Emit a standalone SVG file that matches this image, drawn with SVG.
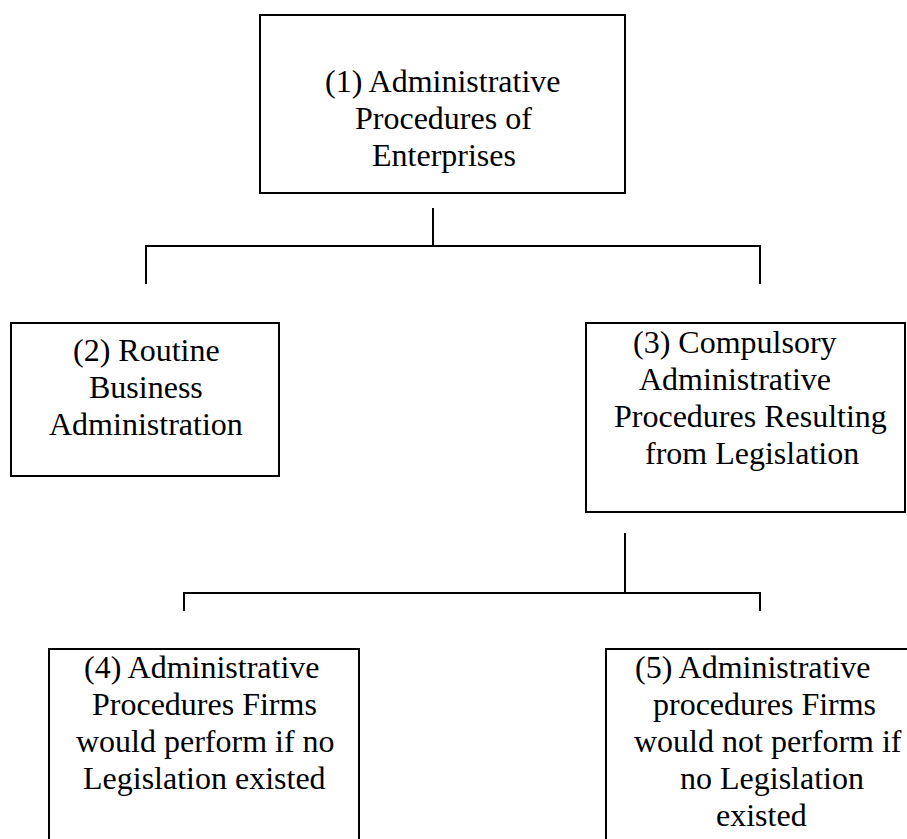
<svg xmlns="http://www.w3.org/2000/svg" width="907" height="839" viewBox="0 0 907 839">
<style>
.box{fill:#fff;stroke:#000;stroke-width:2}
.t{font-family:"Liberation Serif","Times New Roman",serif;font-size:32px;fill:#000}
.c{fill:none;stroke:#000;stroke-width:2}
</style>
<rect width="907" height="839" fill="#fff"/>
<g id="connectors">
<polyline class="c" points="433,208 433,246"/>
<polyline class="c" points="146,284 146,246 760,246 760,284"/>
<polyline class="c" points="625,533 625,593"/>
<polyline class="c" points="184,611 184,593 760,593 760,611"/>
</g>
<g id="n1">
<rect class="box" x="260" y="15" width="365" height="178"/>
<text class="t" x="325" y="92">(1) Administrative</text>
<text class="t" x="355" y="129">Procedures of</text>
<text class="t" x="372" y="166">Enterprises</text>
</g>
<g id="n2">
<rect class="box" x="11" y="323" width="268" height="153"/>
<text class="t" x="73" y="361">(2) Routine</text>
<text class="t" x="89" y="398">Business</text>
<text class="t" x="49" y="435">Administration</text>
</g>
<g id="n3">
<rect class="box" x="586" y="323" width="319" height="189"/>
<text class="t" x="633" y="353">(3) Compulsory</text>
<text class="t" x="639" y="390">Administrative</text>
<text class="t" x="614" y="427">Procedures Resulting</text>
<text class="t" x="645" y="464">from Legislation</text>
</g>
<g id="n4">
<rect class="box" x="49" y="649" width="310" height="200"/>
<text class="t" x="84" y="678">(4) Administrative</text>
<text class="t" x="92" y="715">Procedures Firms</text>
<text class="t" x="76" y="752">would perform if no</text>
<text class="t" x="83" y="789">Legislation existed</text>
</g>
<g id="n5">
<rect class="box" x="606" y="649" width="320" height="200"/>
<text class="t" x="635" y="678">(5) Administrative</text>
<text class="t" x="653" y="715">procedures Firms</text>
<text class="t" x="634" y="752">would not perform if</text>
<text class="t" x="680" y="789">no Legislation</text>
<text class="t" x="716" y="826">existed</text>
</g>
</svg>
